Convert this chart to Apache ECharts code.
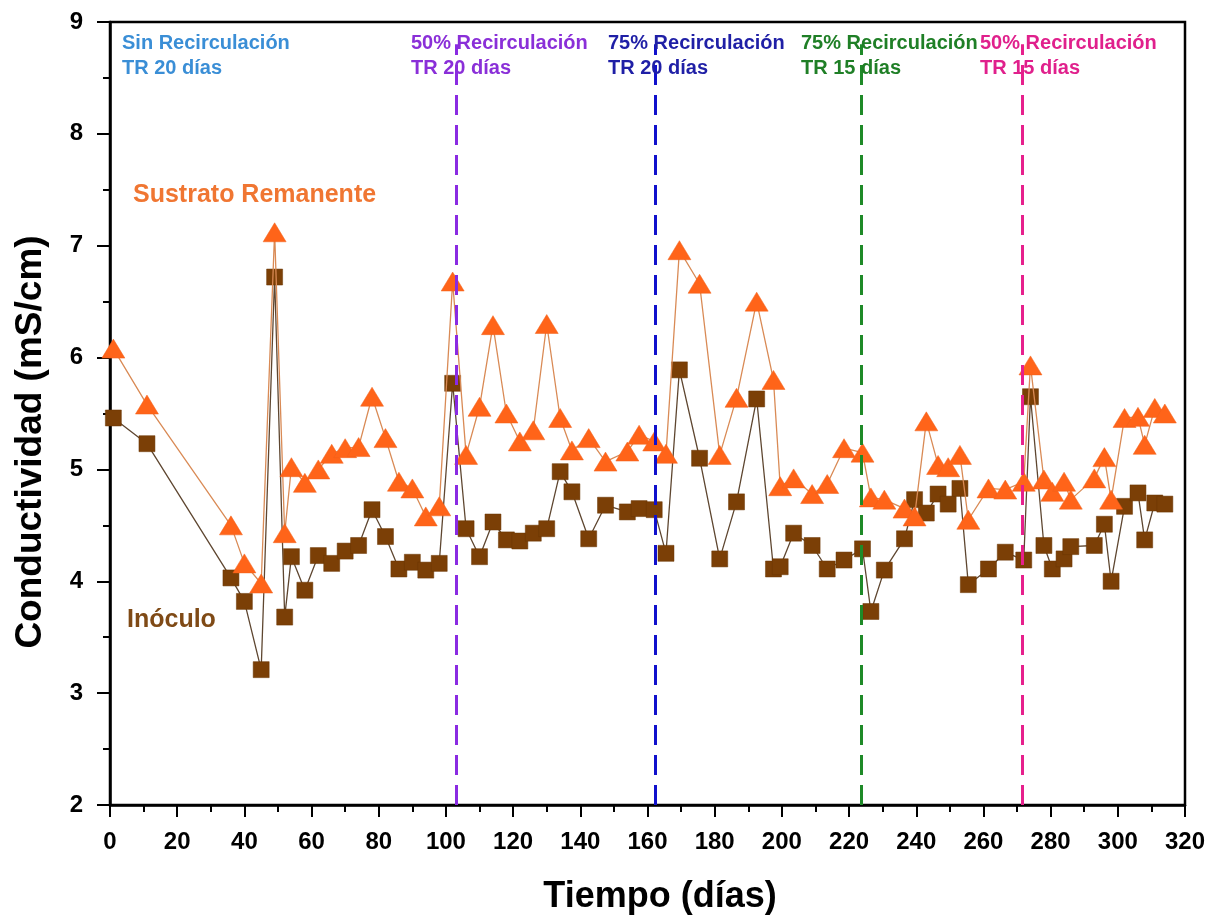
<!DOCTYPE html>
<html>
<head>
<meta charset="utf-8">
<script src="https://cdn.jsdelivr.net/npm/echarts@6/dist/echarts.min.js"></script>
<style>html,body{margin:0;padding:0;background:#fff;}#c{width:1222px;height:918px;}</style>
</head>
<body>
<div id="c"></div>
<script>
// ---- Data ----
const days = [1, 11, 36, 40, 45, 49, 52, 54, 58, 62, 66, 70, 74, 78, 82, 86, 90, 94, 98, 102,
  106, 110, 114, 118, 122, 126, 130, 134, 137.5, 142.5, 147.5, 154, 157.5, 162, 165.5, 169.5,
  175.5, 181.5, 186.5, 192.5, 197.5, 199.5, 203.5, 209, 213.5, 218.5, 224, 226.5, 230.5, 236.5,
  239.5, 243, 246.5, 249.5, 253, 255.5, 261.5, 266.5, 272, 274, 278, 280.5, 284, 286, 293, 296,
  298, 302, 306, 308, 311, 314];
const sustrato = [6.08, 5.58, 4.50, 4.16, 3.98, 7.12, 4.43, 5.02, 4.88, 5.00, 5.14, 5.19, 5.20, 5.65,
  5.28, 4.89, 4.83, 4.58, 4.67, 6.68, 5.13, 5.56, 6.29, 5.50, 5.25, 5.35, 6.30, 5.46, 5.17, 5.28,
  5.07, 5.16, 5.31, 5.25, 5.14, 6.96, 6.66, 5.13, 5.64, 6.50, 5.80, 4.85, 4.92, 4.78, 4.87, 5.19,
  5.15, 4.75, 4.73, 4.65, 4.58, 5.43, 5.04, 5.02, 5.13, 4.55, 4.83, 4.82, 4.89, 5.93, 4.91, 4.80,
  4.89, 4.73, 4.92, 5.11, 4.73, 5.46, 5.47, 5.22, 5.55, 5.50];
const inoculo = [5.46, 5.23, 4.03, 3.82, 3.21, 6.72, 3.68, 4.22, 3.92, 4.23, 4.16, 4.27, 4.32, 4.64,
  4.40, 4.11, 4.17, 4.10, 4.16, 5.77, 4.47, 4.22, 4.53, 4.37, 4.36, 4.43, 4.47, 4.98, 4.80, 4.38,
  4.68, 4.62, 4.65, 4.64, 4.25, 5.89, 5.10, 4.20, 4.71, 5.63, 4.11, 4.13, 4.43, 4.32, 4.11, 4.19,
  4.29, 3.73, 4.10, 4.38, 4.73, 4.61, 4.78, 4.69, 4.83, 3.97, 4.11, 4.26, 4.19, 5.65, 4.32, 4.11,
  4.20, 4.31, 4.32, 4.51, 4.00, 4.67, 4.79, 4.37, 4.70, 4.69];
const phaseChangeDays = [103, 162.4, 223.7, 271.7];
const phaseLine1 = ['Sin Recirculación', '50% Recirculación', '75% Recirculación', '75% Recirculación', '50% Recirculación'];
const phaseLine2 = ['TR 20 días', 'TR 20 días', 'TR 20 días', 'TR 15 días', 'TR 15 días'];
const xAxisTitle = 'Tiempo (días)';
const yAxisTitle = 'Conductividad (mS/cm)';
const seriesNames = ['Sustrato Remanente', 'Inóculo'];

// ---- Styles ----
const FONT = "'Liberation Sans', Arial, Helvetica, sans-serif";
const phaseTextColors = ['#3a8ed6', '#8a2fd8', '#1f1fa6', '#1f7f26', '#e0208c'];
const phaseLineColors = ['#8a2be2', '#1010cc', '#1e8a28', '#e6208c'];
const phaseTextX = [122, 411, 608, 801, 980];

const chart = echarts.init(document.getElementById('c'), null, {renderer: 'canvas'});

const graphics = [];
phaseLine1.forEach((t, i) => {
  graphics.push({type: 'text', x: phaseTextX[i], y: 43, z: 20,
    style: {text: t, fill: phaseTextColors[i], font: 'bold 20px ' + FONT, textAlign: 'left', textVerticalAlign: 'middle'}});
  graphics.push({type: 'text', x: phaseTextX[i], y: 68, z: 20,
    style: {text: phaseLine2[i], fill: phaseTextColors[i], font: 'bold 20px ' + FONT, textAlign: 'left', textVerticalAlign: 'middle'}});
});
graphics.push({type: 'text', x: 133, y: 195, z: 20,
  style: {text: seriesNames[0], fill: '#f07632', font: 'bold 25px ' + FONT, textAlign: 'left', textVerticalAlign: 'middle'}});
graphics.push({type: 'text', x: 127, y: 620, z: 20,
  style: {text: seriesNames[1], fill: '#7f4a16', font: 'bold 25px ' + FONT, textAlign: 'left', textVerticalAlign: 'middle'}});
graphics.push({type: 'text', x: 660, y: 897, z: 20,
  style: {text: xAxisTitle, fill: '#000', font: 'bold 36px ' + FONT, textAlign: 'center', textVerticalAlign: 'middle'}});
graphics.push({type: 'text', x: 31, y: 442, z: 20, rotation: Math.PI / 2,
  style: {text: yAxisTitle, fill: '#000', font: 'bold 37px ' + FONT, textAlign: 'center', textVerticalAlign: 'middle'}});

const option = {
  animation: false,
  backgroundColor: '#fff',
  grid: {left: 110, right: 37, top: 22, bottom: 113, show: true, borderColor: '#000', borderWidth: 2.5, backgroundColor: 'transparent'},
  xAxis: {
    type: 'value', min: 0, max: 320, interval: 20,
    axisLine: {show: true, onZero: false, lineStyle: {color: '#000', width: 2.5}},
    axisTick: {show: true, inside: false, length: 12, lineStyle: {color: '#000', width: 2}},
    minorTick: {show: true, splitNumber: 2, length: 7, lineStyle: {color: '#000', width: 2}},
    axisLabel: {color: '#000', fontFamily: FONT, fontWeight: 'bold', fontSize: 24, margin: 25},
    splitLine: {show: false}
  },
  yAxis: {
    type: 'value', min: 2, max: 9, interval: 1,
    axisLine: {show: true, onZero: false, lineStyle: {color: '#000', width: 2.5}},
    axisTick: {show: true, inside: false, length: 13, lineStyle: {color: '#000', width: 2}},
    minorTick: {show: true, splitNumber: 2, length: 7, lineStyle: {color: '#000', width: 2}},
    axisLabel: {color: '#000', fontFamily: FONT, fontWeight: 'bold', fontSize: 24, margin: 27},
    splitLine: {show: false}
  },
  graphic: graphics,
  series: [
    {
      name: seriesNames[1], type: 'line', z: 2,
      data: days.map((d, i) => [d, inoculo[i]]),
      symbol: 'rect', symbolSize: 16,
      itemStyle: {color: '#7b3f06', borderColor: '#6a3604', borderWidth: 0.5},
      lineStyle: {color: '#5e4630', width: 1.3}
    },
    {
      name: seriesNames[0], type: 'line', z: 3,
      data: days.map((d, i) => [d, sustrato[i]]),
      symbol: 'triangle', symbolSize: [23, 19],
      itemStyle: {color: '#ff6419', borderColor: '#f0601a', borderWidth: 0.5},
      lineStyle: {color: '#d98a55', width: 1.3}
    },
    {
      name: 'phases', type: 'line', z: 10, data: [],
      markLine: {
        silent: true, symbol: 'none', label: {show: false}, animation: false,
        data: phaseChangeDays.map((d, i) => [
          {coord: [d, 2], lineStyle: {color: phaseLineColors[i], width: 3, type: [20, 10]}},
          {coord: [d, 8.8]}
        ])
      }
    }
  ]
};
chart.setOption(option);
</script>
</body>
</html>
